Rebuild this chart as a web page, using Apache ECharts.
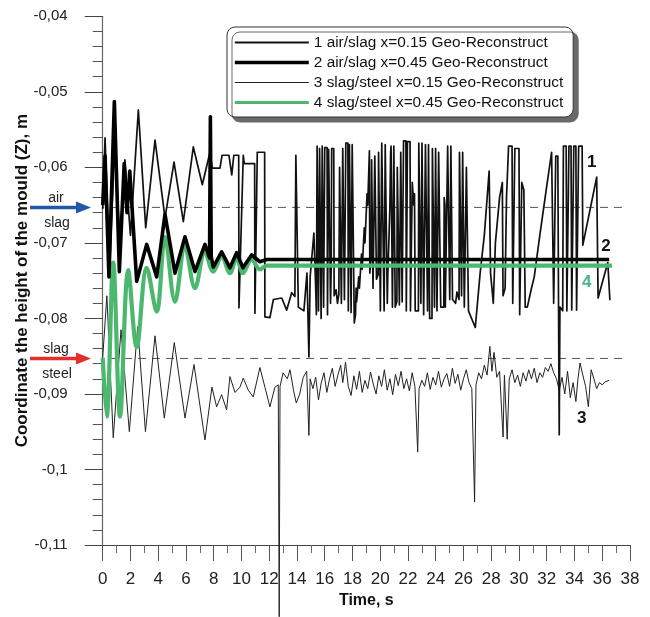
<!DOCTYPE html>
<html><head><meta charset="utf-8">
<script src="https://cdn.jsdelivr.net/npm/echarts@6/dist/echarts.min.js"></script>
<style>html,body{margin:0;padding:0;background:#fff}#c{width:650px;height:617px}</style>
</head><body><div id="c"></div>
<script>
// ---------------- DATA ----------------
const seriesNames = [
  '1 air/slag x=0.15 Geo-Reconstruct',
  '2 air/slag x=0.45 Geo-Reconstruct',
  '3 slag/steel x=0.15 Geo-Reconstruct',
  '4 slag/steel x=0.45 Geo-Reconstruct'
];

// series 1: air/slag interface, x=0.15  [time s, Z m]
const series1 = [
  [0,-0.0655],[0.17,-0.0561],[0.5,-0.0735],[0.85,-0.0575],[1.25,-0.0700],[1.6,-0.0590],[2.0,-0.0690],
  [2.57,-0.0524],[3.1,-0.0680],[3.77,-0.0564],[4.49,-0.0667],[5.14,-0.0593],[5.81,-0.0672],[6.53,-0.0573],
  [7.18,-0.0623],[7.73,-0.0580],[7.9,-0.0601],[8.45,-0.0601],[8.6,-0.0584],[9.1,-0.0584],[9.3,-0.0610],
  [9.45,-0.0584],[9.8,-0.0584],[9.82,-0.0786],[9.95,-0.0786],[10.13,-0.0584],[10.2,-0.0595],[10.95,-0.0595],
  [10.97,-0.0793],[11.1,-0.0793],[11.14,-0.0580],[11.67,-0.0580],[11.69,-0.0798],[12.05,-0.0799],
  [12.3,-0.0775],[12.9,-0.0773],[13.26,-0.0789],[13.62,-0.0766],[13.85,-0.0771],[13.92,-0.0584],
  [14.1,-0.0785],[14.5,-0.0790],[14.72,-0.0740],[14.86,-0.0851],[14.95,-0.0745],[15.22,-0.0687],[15.35,-0.0760],
  [15.40,-0.0795],[15.45,-0.0572],[15.52,-0.0572],[15.55,-0.0790],[15.60,-0.0790],[15.63,-0.0575],[15.71,-0.0575],
  [15.74,-0.0800],[15.79,-0.0800],[15.82,-0.0572],[15.89,-0.0572],[15.92,-0.0785],[15.97,-0.0785],[16.00,-0.0574],
  [16.17,-0.0574],[16.20,-0.0795],[16.25,-0.0795],[16.28,-0.0576],[16.39,-0.0576],[16.42,-0.0780],[16.47,-0.0730],
  [16.50,-0.0575],[16.65,-0.0575],[16.68,-0.0770],[16.82,-0.0762],[16.92,-0.0780],[17.02,-0.0768],[17.07,-0.0600],
  [17.17,-0.0600],[17.20,-0.0780],[17.27,-0.0780],[17.30,-0.0575],[17.39,-0.0575],[17.42,-0.0775],[17.49,-0.0775],
  [17.52,-0.0568],[17.67,-0.0568],[17.70,-0.0790],[17.75,-0.0790],[17.78,-0.0570],[17.87,-0.0570],[17.90,-0.0792],
  [17.95,-0.0792],[17.98,-0.0570],[18.09,-0.0570],[18.13,-0.0806],[18.22,-0.0795],[18.26,-0.0760],[18.30,-0.0778],
  [18.45,-0.0745],[18.50,-0.0760],[18.65,-0.0715],[18.70,-0.0735],[18.85,-0.0680],[18.90,-0.0700],[19.05,-0.0635],
  [19.10,-0.0650],[19.22,-0.0578],[19.25,-0.0740],[19.35,-0.0715],[19.38,-0.0590],[19.45,-0.0590],[19.48,-0.0760],
  [19.58,-0.0760],[19.61,-0.0585],[19.70,-0.0585],[19.73,-0.0748],[19.85,-0.0742],[19.88,-0.0580],[19.98,-0.0580],
  [20.01,-0.0790],[20.08,-0.0790],[20.11,-0.0568],[20.25,-0.0568],[20.28,-0.0790],[20.33,-0.0790],[20.36,-0.0570],
  [20.48,-0.0570],[20.51,-0.0780],[20.55,-0.0740],[20.62,-0.0700],[20.70,-0.0650],[20.75,-0.0580],[20.78,-0.0572],
  [20.85,-0.0572],[20.88,-0.0785],[20.95,-0.0785],[20.98,-0.0572],[21.05,-0.0572],[21.08,-0.0785],[21.20,-0.0778],
  [21.23,-0.0600],[21.35,-0.0600],[21.38,-0.0782],[21.45,-0.0782],[21.48,-0.0580],[21.55,-0.0580],[21.58,-0.0778],
  [21.65,-0.0778],[21.68,-0.0565],[21.85,-0.0565],[21.88,-0.0790],[21.93,-0.0790],[21.96,-0.0566],[22.15,-0.0566],
  [22.18,-0.0790],[22.28,-0.0790],[22.31,-0.0620],[22.42,-0.0650],[22.47,-0.0635],[22.52,-0.0790],[22.75,-0.0790],
  [22.78,-0.0568],[22.90,-0.0568],[22.93,-0.0780],[22.98,-0.0780],[23.01,-0.0568],[23.10,-0.0568],[23.13,-0.0795],
  [23.23,-0.0795],[23.26,-0.0570],[23.38,-0.0570],[23.41,-0.0790],[23.45,-0.0790],[23.48,-0.0570],[23.53,-0.0570],
  [23.56,-0.0800],[23.73,-0.0800],[23.76,-0.0575],[23.88,-0.0575],[23.91,-0.0785],[23.96,-0.0785],[23.99,-0.0575],
  [24.06,-0.0575],[24.09,-0.0790],[24.18,-0.0790],[24.21,-0.0580],[24.33,-0.0580],[24.36,-0.0785],[24.58,-0.0785],
  [24.61,-0.0640],[24.66,-0.0650],[24.69,-0.0785],[24.83,-0.0785],[24.86,-0.0572],[24.98,-0.0572],[25.01,-0.0775],
  [25.06,-0.0775],[25.09,-0.0572],[25.18,-0.0572],[25.21,-0.0775],[25.43,-0.0780],[25.53,-0.0765],[25.68,-0.0775],
  [25.71,-0.0580],[25.83,-0.0580],[25.86,-0.0770],[25.91,-0.0770],[25.94,-0.0580],[26.03,-0.0580],[26.06,-0.0785],
  [26.18,-0.0785],[26.21,-0.0600],[26.33,-0.0600],[26.36,-0.0790],[26.85,-0.0812],[27.2,-0.0740],[27.5,-0.0690],
  [27.85,-0.0605],[27.95,-0.0740],[28.15,-0.0780],[28.3,-0.0700],[28.6,-0.0640],[28.8,-0.0620],[28.85,-0.0770],
  [29.0,-0.0760],[29.1,-0.0640],[29.25,-0.0572],[29.5,-0.0572],[29.55,-0.0780],[29.65,-0.0780],[29.7,-0.0575],
  [30.0,-0.0575],[30.05,-0.0795],[30.15,-0.0795],[30.2,-0.0620],[30.35,-0.0630],[30.45,-0.0785],[30.6,-0.0785],
  [30.9,-0.0760],[31.1,-0.0745],[31.5,-0.0690],[32.0,-0.0625],[32.35,-0.0580],[32.45,-0.0580],[32.5,-0.0780],
  [32.6,-0.0780],[32.65,-0.0585],[32.8,-0.0585],[32.85,-0.0785],[32.9,-0.0954],[32.95,-0.0785],[33.15,-0.0790],
  [33.2,-0.0572],[33.4,-0.0572],[33.45,-0.0790],[33.55,-0.0790],[33.6,-0.0572],[33.75,-0.0572],[33.8,-0.0789],
  [33.9,-0.0789],[33.95,-0.0572],[34.1,-0.0572],[34.15,-0.0789],[34.25,-0.0789],[34.3,-0.0572],[34.55,-0.0572],
  [34.6,-0.0703],[35.6,-0.0613],[35.7,-0.0773],[36.4,-0.0726],[36.55,-0.0776]
];

// series 2: air/slag interface, x=0.45
const series2 = [
  [0,-0.0650],[0.17,-0.0585],[0.45,-0.0745],[0.84,-0.0513],[1.2,-0.0738],[1.55,-0.0595],[1.75,-0.0660],
  [1.95,-0.0605],[2.45,-0.0751],[3.17,-0.0702],[3.89,-0.0745],[4.49,-0.0662],[5.21,-0.0740],[5.93,-0.0692],
  [6.65,-0.0738],[7.37,-0.0702],[7.7,-0.0720],[7.76,-0.0533],[7.82,-0.0718],[7.97,-0.0732],[8.57,-0.0712],
  [9.17,-0.0733],[9.65,-0.0713],[10.11,-0.0733],[10.73,-0.0716],[11.33,-0.0725],[11.82,-0.0722],[36.5,-0.0722]
];

// series 3: slag/steel interface, x=0.15
const series3 = [
  [0,-0.0852],[0.3,-0.0770],[0.76,-0.0958],[1.32,-0.0815],[1.92,-0.0950],[2.52,-0.0811],[3.08,-0.0950],
  [3.77,-0.0823],[4.44,-0.0932],[5.16,-0.0832],[5.93,-0.0932],[6.58,-0.0861],[7.37,-0.0961],[7.87,-0.0891],
  [8.21,-0.0917],[8.57,-0.0901],[8.93,-0.0921],[9.17,-0.0877],[9.53,-0.0898],[9.89,-0.0891],[10.13,-0.0879],
  [10.49,-0.0895],[10.85,-0.0904],[11.33,-0.0865],[11.69,-0.0891],[12.05,-0.0917],[12.41,-0.0891],[12.65,-0.0888],
  [12.72,-0.1195],[12.78,-0.0890],[13.0,-0.0872],[13.3,-0.0880],[13.5,-0.0868],[13.75,-0.0895],[13.95,-0.0912],
  [14.2,-0.0900],[14.45,-0.0878],[14.7,-0.0870],[14.86,-0.0955],[14.95,-0.0880],[15.15,-0.0893],[15.35,-0.0878],
  [15.55,-0.0908],[15.75,-0.0885],[15.95,-0.0872],[16.15,-0.0898],[16.35,-0.0880],[16.55,-0.0866],[16.75,-0.0890],
  [16.95,-0.0875],[17.15,-0.0862],[17.3,-0.0885],[17.5,-0.0858],[17.7,-0.0890],[17.9,-0.0902],[18.1,-0.0876],
  [18.3,-0.0894],[18.5,-0.0870],[18.7,-0.0898],[18.9,-0.0882],[19.1,-0.0893],[19.3,-0.0871],[19.5,-0.0887],
  [19.7,-0.0900],[19.9,-0.0876],[20.1,-0.0890],[20.3,-0.0868],[20.5,-0.0895],[20.7,-0.0880],[20.9,-0.0901],
  [21.1,-0.0874],[21.3,-0.0889],[21.5,-0.0870],[21.7,-0.0893],[21.9,-0.0880],[22.1,-0.0896],[22.3,-0.0872],
  [22.5,-0.0890],[22.7,-0.0977],[22.8,-0.0893],[23.0,-0.0882],[23.2,-0.0890],[23.4,-0.0872],[23.6,-0.0894],
  [23.8,-0.0878],[24.0,-0.0888],[24.2,-0.0870],[24.4,-0.0891],[24.6,-0.0880],[24.8,-0.0873],[25.0,-0.0890],
  [25.2,-0.0866],[25.4,-0.0886],[25.6,-0.0874],[25.8,-0.0895],[26.0,-0.0880],[26.2,-0.0868],[26.4,-0.0885],
  [26.6,-0.0893],[26.8,-0.1043],[26.9,-0.0888],[27.1,-0.0872],[27.3,-0.0880],[27.5,-0.0862],[27.7,-0.0875],
  [27.9,-0.0837],[28.05,-0.0870],[28.2,-0.0845],[28.4,-0.0878],[28.6,-0.0870],[28.85,-0.0957],[28.95,-0.0875],
  [29.15,-0.0960],[29.3,-0.0880],[29.5,-0.0868],[29.7,-0.0885],[29.9,-0.0875],[30.1,-0.0890],[30.3,-0.0872],
  [30.5,-0.0883],[30.7,-0.0868],[30.9,-0.0880],[31.1,-0.0866],[31.3,-0.0885],[31.5,-0.0872],[31.7,-0.0878],
  [31.9,-0.0865],[32.1,-0.0870],[32.3,-0.0860],[32.5,-0.0872],[32.7,-0.0880],[32.9,-0.0895],[33.1,-0.0878],
  [33.3,-0.0900],[33.5,-0.0870],[33.7,-0.0905],[33.9,-0.0885],[34.1,-0.0910],[34.25,-0.0880],[34.4,-0.0859],
  [34.6,-0.0875],[34.8,-0.0890],[35.0,-0.0917],[35.2,-0.0868],[35.4,-0.0880],[35.6,-0.0893],[35.8,-0.0885],
  [36.0,-0.0888],[36.2,-0.0884],[36.5,-0.0882]
];

// series 4: slag/steel interface, x=0.45
const series4 = [
  [0,-0.0852],[0.29,-0.0930],[0.76,-0.0726],[1.25,-0.0930],[1.84,-0.0736],[2.45,-0.0838],[3.17,-0.0733],
  [3.89,-0.0791],[4.49,-0.0692],[5.21,-0.0778],[5.93,-0.0705],[6.65,-0.0760],[7.37,-0.0712],[7.97,-0.0738],
  [8.57,-0.0718],[9.17,-0.0740],[9.65,-0.0720],[10.11,-0.0740],[10.73,-0.0722],[11.33,-0.0735],[11.82,-0.0730],
  [36.7,-0.0730]
];

// interface levels (dashed lines)
const levelNames = ['air/slag', 'slag/steel'];
const levelValues = [-0.0653, -0.0853];
const levelExtent = [-0.48, 37.8];

// axis ticks
const xMin = 0, xMax = 38, xStep = 2;
const yMin = -0.11, yMax = -0.04, yStep = 0.01;

// curve number labels [label, time, value]
const curveLabels = [['1', 35.25, -0.0593], ['2', 36.26, -0.0705], ['3', 34.53, -0.0932], ['4', 34.89, -0.0752]];

// ---------------- CHART ----------------
const FONT = '"Liberation Sans", Arial, sans-serif';
const GREEN = '#4cb86f';
const chart = echarts.init(document.getElementById('c'), null, {renderer: 'canvas'});

const lineW = [1.7, 3.6, 1.0, 4.2];
const legendW = [1.8, 3.6, 1.2, 3.2];
const colors = ['#111', '#000', '#222', GREEN];
const datas = [series1, series2, series3, series4];

const series = datas.map((d, i) => ({
  name: seriesNames[i], type: 'line', data: d, symbol: 'none', showSymbol: false, clip: false,
  z: [3, 4, 2, 3.5][i],
  lineStyle: {width: lineW[i], color: colors[i], join: 'round'},
  itemStyle: {color: colors[i]},
  smooth: i === 3 ? 0.35 : false
}));
levelValues.forEach((v, i) => {
  series.push({
    name: levelNames[i], type: 'line', symbol: 'none', clip: false, silent: true, z: 1,
    data: [[levelExtent[0], v], [levelExtent[1], v]],
    lineStyle: {width: 1, color: '#555', type: [8, 6]}
  });
});

const option = {
  animation: false,
  backgroundColor: '#fff',
  textStyle: {fontFamily: FONT},
  grid: {left: 102.7, right: 20, top: 16.3, bottom: 72, containLabel: false, outerBoundsMode: 'none'},
  legend: {
    data: seriesNames.map((n, i) => ({name: n, lineStyle: {width: legendW[i], color: colors[i]}})),
    orient: 'vertical', left: 227, top: 27,
    padding: [8, 10, 7, 6], itemGap: 5, itemWidth: 74, itemHeight: 16,
    backgroundColor: '#fff', borderColor: '#333', borderWidth: 1, borderRadius: 8,
    shadowColor: '#6a6a6a', shadowBlur: 0, shadowOffsetX: 5, shadowOffsetY: 5,
    itemStyle: {opacity: 0},
    textStyle: {fontSize: 15.4, color: '#111', fontFamily: FONT},
    selectedMode: false
  },
  xAxis: {
    type: 'value', min: xMin, max: xMax, interval: xStep,
    name: 'Time, s', nameLocation: 'middle', nameGap: 47,
    nameTextStyle: {fontSize: 16, fontWeight: 'bold', color: '#111', fontFamily: FONT},
    axisLine: {show: true, lineStyle: {color: '#444', width: 1}},
    axisTick: {show: true, length: 16, lineStyle: {color: '#555'}},
    minorTick: {show: true, splitNumber: 2, length: 8, lineStyle: {color: '#666'}},
    axisLabel: {fontSize: 17, color: '#222', margin: 26, fontFamily: FONT},
    splitLine: {show: false}
  },
  yAxis: {
    type: 'value', min: yMin, max: yMax, interval: yStep, offset: 7,
    name: 'Coordinate the height of the mould (Z), m', nameLocation: 'middle', nameGap: 65, nameMoveOverlap: false,
    nameTextStyle: {fontSize: 17, fontWeight: 'bold', color: '#111', fontFamily: FONT},
    axisLine: {show: true, lineStyle: {color: '#666', width: 1.2}},
    axisTick: {show: true, length: 18, lineStyle: {color: '#444'}},
    minorTick: {show: true, splitNumber: 5, length: 10, lineStyle: {color: '#555'}},
    axisLabel: {fontSize: 15, color: '#222', margin: 28, fontFamily: FONT,
      formatter: v => String(+v.toFixed(2)).replace('.', ',')},
    splitLine: {show: false}
  },
  series: series
};
chart.setOption(option);

// annotations: arrows + text at interface levels, curve numbers
const g = [];
const arrowCols = ['#2357a8', '#e2302f'];
const arrowText = [['air', 'slag'], ['slag', 'steel']];
levelValues.forEach((v, i) => {
  const y = chart.convertToPixel({gridIndex: 0}, [0, v])[1];
  g.push({type: 'line', shape: {x1: 30, y1: y, x2: 80, y2: y}, style: {stroke: arrowCols[i], lineWidth: 3.5}, z: 20});
  g.push({type: 'polygon', shape: {points: [[76, y - 6], [91, y], [76, y + 6]]}, style: {fill: arrowCols[i]}, z: 20});
  g.push({type: 'text', x: 56, y: y - 9, style: {text: arrowText[i][0], fontSize: 14, fill: '#222', fontFamily: FONT, align: 'center', verticalAlign: 'middle'}, z: 20});
  g.push({type: 'text', x: 57, y: y + 16, style: {text: arrowText[i][1], fontSize: 14, fill: '#222', fontFamily: FONT, align: 'center', verticalAlign: 'middle'}, z: 20});
});
curveLabels.forEach(([t, xv, yv]) => {
  const p = chart.convertToPixel({gridIndex: 0}, [xv, yv]);
  g.push({type: 'text', x: p[0], y: p[1], style: {text: t, fontSize: 17, fontWeight: 'bold', fill: t === '4' ? '#45b58f' : '#111', fontFamily: FONT, align: 'center', verticalAlign: 'middle'}, z: 20});
});
chart.setOption({graphic: g});
</script>
</body></html>
